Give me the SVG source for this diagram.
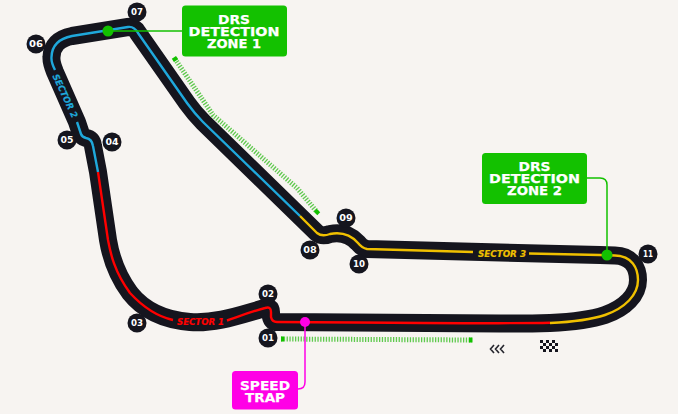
<svg xmlns="http://www.w3.org/2000/svg" width="678" height="414" viewBox="0 0 678 414">
<style>
text{font-family:"DejaVu Sans","Liberation Sans",sans-serif;font-weight:700;text-anchor:middle}
.track{fill:none;stroke:#15151e;stroke-width:18;stroke-linejoin:round}
.s{fill:none;stroke-width:2.4;stroke-linejoin:round}
.drs{fill:none;stroke:#5fc94e;stroke-width:5;stroke-dasharray:1.300 1.500}
.cap{fill:#13c100}
.lead{fill:none;stroke:#13c100;stroke-width:1.500}
.box{fill:#13c100}
.lbl{fill:#fff;font-size:12.800px;stroke:#fff;stroke-width:.25}
.badge circle{fill:#15151e}
.badge text{fill:#fff;font-size:9px}
.sec{font-size:9px;font-style:italic;stroke-width:.2}
</style>
<rect width="678" height="414" fill="#f7f4f1"/>
<g id="connectors">
<path class="track" d="M277 322L500 323.500C520 323.700 535 323.500 550 323C570 322 590 320 605 315C625 308 638 295 638 280C638 268 632 256 615 255.500L600 255L367 249Q362 248 358 243C350 234 340 232 330 234Q322 237 317 233L203 122Q195 114 187 103L138 33Q134 26 128 27L72 36Q52 40 51.500 57Q51 62 55 72L77 122L81 134Q82 137 86 138Q92 139 93 146L98 172L108 240Q113 270 130 293C145 312 165 320 190 322C215 324 240 315 265 308Q271 306 271 312L271 317Q272 322 277 322Z"/>
<path class="s" stroke="#ff0000" d="M550 322.800C500 324 400 322.500 277 322Q272 322 271 317L271 312Q271 306 265 308C250 312 240 316 227 320.500"/>
<path class="s" stroke="#ff0000" d="M173 320C155 316 142 306 130 293C113 270 110 250 108 240L98 172"/>
<path class="s" stroke="#1fa8dc" d="M98 172L93 146Q92 139 86 138Q82 137 81 134L77 122"/>
<path class="s" stroke="#1fa8dc" d="M55 70Q51 62 51.500 57Q52 40 72 36L128 27Q134 26 138 33L187 103Q195 114 203 122L300 216"/>
<path class="s" stroke="#f0c000" d="M300 216L317 233Q322 237 330 234C340 232 350 234 358 243Q362 248 367 249L473 252"/>
<path class="s" stroke="#f0c000" d="M529 253.500L600 255L615 255.500C632 256 638 268 638 280C638 295 625 308 605 315C590 320 570 322 550 323"/>
<path class="drs" d="M175 59L213 115L297 188L317 212"/>
<path class="drs" d="M281 339L472 340"/>
<rect class="cap" x="172.500" y="57" width="5" height="4" transform="rotate(-33 175 59)"/>
<rect class="cap" x="314.500" y="210" width="5" height="4" transform="rotate(45 317 212)"/>
<rect class="cap" x="281" y="336.500" width="3" height="5"/>
<rect class="cap" x="469" y="337.500" width="3.500" height="5"/>
<path class="lead" d="M287 31L108 31"/>
<path class="lead" d="M587 178L600 178Q607 178 607 185L607 255"/>
<path fill="none" stroke="#ff00e6" stroke-width="1.500" d="M305 322L305 382Q305 389 298 389"/>
<circle cx="108" cy="31" r="5.500" fill="#13c100"/>
<circle cx="607" cy="255" r="5.500" fill="#13c100"/>
<circle cx="305" cy="322" r="5" fill="#ff00e6"/>
</g>
<g id="sector-labels">
<text class="sec" fill="#1fa8dc" stroke="#1fa8dc" transform="translate(65 96) rotate(65)" y="3" textLength="47" lengthAdjust="spacingAndGlyphs">SECTOR 2</text>
<text class="sec" fill="#ff0000" stroke="#ff0000" x="200.500" y="325" textLength="47" lengthAdjust="spacingAndGlyphs">SECTOR 1</text>
<text class="sec" fill="#f0c000" stroke="#f0c000" x="502" y="256.500" textLength="48" lengthAdjust="spacingAndGlyphs">SECTOR 3</text>
</g>
<g id="drs1"><rect class="box" x="182" y="5.500" width="105" height="51" rx="3.500"/>
<text class="lbl"><tspan x="234" y="23.500" textLength="32" lengthAdjust="spacingAndGlyphs">DRS</tspan><tspan x="234" y="36" textLength="91" lengthAdjust="spacingAndGlyphs">DETECTION</tspan><tspan x="234" y="47.800" textLength="54" lengthAdjust="spacingAndGlyphs">ZONE 1</tspan></text></g>
<g id="drs2"><rect class="box" x="482" y="153" width="105" height="51" rx="3.500"/>
<text class="lbl"><tspan x="534.500" y="171" textLength="32" lengthAdjust="spacingAndGlyphs">DRS</tspan><tspan x="534.500" y="183.300" textLength="91" lengthAdjust="spacingAndGlyphs">DETECTION</tspan><tspan x="534.500" y="195" textLength="55" lengthAdjust="spacingAndGlyphs">ZONE 2</tspan></text></g>
<g id="speed"><rect x="232" y="371" width="66" height="38.500" rx="3.500" fill="#ff00e6"/>
<text class="lbl"><tspan x="265" y="390" textLength="50" lengthAdjust="spacingAndGlyphs">SPEED</tspan><tspan x="265" y="402.300" textLength="40" lengthAdjust="spacingAndGlyphs">TRAP</tspan></text></g>
<g id="t01" class="badge"><circle cx="268" cy="338" r="9.500"/><text x="268" y="341.300" textLength="12" lengthAdjust="spacingAndGlyphs">01</text></g>
<g id="t02" class="badge"><circle cx="268" cy="294" r="9.500"/><text x="268" y="297.300" textLength="12" lengthAdjust="spacingAndGlyphs">02</text></g>
<g id="t03" class="badge"><circle cx="137" cy="323" r="9.500"/><text x="137" y="326.300" textLength="12" lengthAdjust="spacingAndGlyphs">03</text></g>
<g id="t04" class="badge"><circle cx="112" cy="142" r="9.500"/><text x="112" y="145.300" textLength="13" lengthAdjust="spacingAndGlyphs">04</text></g>
<g id="t05" class="badge"><circle cx="67" cy="140" r="9.500"/><text x="67" y="143.300" textLength="13" lengthAdjust="spacingAndGlyphs">05</text></g>
<g id="t06" class="badge"><circle cx="36" cy="44" r="9.500"/><text x="36" y="47.300" textLength="14" lengthAdjust="spacingAndGlyphs">06</text></g>
<g id="t07" class="badge"><circle cx="137" cy="12" r="9.500"/><text x="137" y="15.300" textLength="12" lengthAdjust="spacingAndGlyphs">07</text></g>
<g id="t08" class="badge"><circle cx="310" cy="250" r="9.500"/><text x="310" y="253.300" textLength="13.500" lengthAdjust="spacingAndGlyphs">08</text></g>
<g id="t09" class="badge"><circle cx="346" cy="218" r="9.500"/><text x="346" y="221.300" textLength="13.500" lengthAdjust="spacingAndGlyphs">09</text></g>
<g id="t10" class="badge"><circle cx="359" cy="264" r="9.500"/><text x="359" y="267.300" textLength="12" lengthAdjust="spacingAndGlyphs">10</text></g>
<g id="t11" class="badge"><circle cx="648" cy="254" r="9.500"/><text x="648" y="257.300" textLength="10" lengthAdjust="spacingAndGlyphs">11</text></g>
<path id="chevrons" fill="none" stroke="#26262e" stroke-width="1.600" d="M494 345L490.500 349L494 353M499 345L495.500 349L499 353M504 345L500.500 349L504 353"/>
<path id="flag" fill="#15151e" d="M540 340h3v3h-3zM546 340h3v3h-3zM552 340h3v3h-3zM543 343h3v3h-3zM549 343h3v3h-3zM555 343h3v3h-3zM540 346h3v3h-3zM546 346h3v3h-3zM552 346h3v3h-3zM543 349h3v3h-3zM549 349h3v3h-3zM555 349h3v3h-3z"/>
</svg>
